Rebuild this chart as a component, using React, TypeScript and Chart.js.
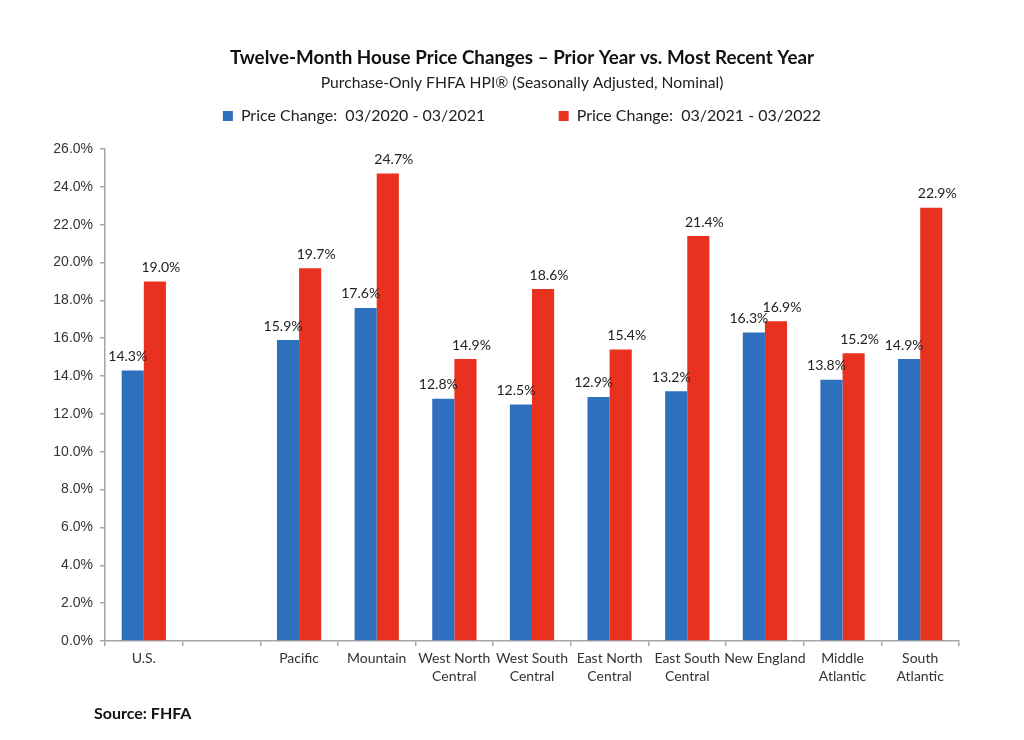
import React, { useEffect, useRef } from 'react';
import { Chart, registerables } from 'chart.js';

Chart.register(...registerables);

const categories: (string | string[])[] = [
  'U.S.',
  '',
  'Pacific',
  'Mountain',
  ['West North', 'Central'],
  ['West South', 'Central'],
  ['East North', 'Central'],
  ['East South', 'Central'],
  'New England',
  ['Middle', 'Atlantic'],
  ['South', 'Atlantic'],
];

const priorYear: (number | null)[] = [14.3, null, 15.9, 17.6, 12.8, 12.5, 12.9, 13.2, 16.3, 13.8, 14.9];
const recentYear: (number | null)[] = [19.0, null, 19.7, 24.7, 14.9, 18.6, 15.4, 21.4, 16.9, 15.2, 22.9];

const seriesNames = ['Price Change:  03/2020 - 03/2021', 'Price Change:  03/2021 - 03/2022'];
const yTickValues = [0, 2, 4, 6, 8, 10, 12, 14, 16, 18, 20, 22, 24, 26];

const titleText = 'Twelve-Month House Price Changes \u2013 Prior Year vs. Most Recent Year';
const subtitleText = 'Purchase-Only FHFA HPI\u00AE (Seasonally Adjusted, Nominal)';
const sourceText = 'Source: FHFA';

const BLUE = '#2E6FBE';
const RED = '#E8321F';
const AXIS = '#A6A6A6';

const dataLabels = {
  id: 'dataLabels',
  afterDatasetsDraw(chart: any) {
    const ctx = chart.ctx;
    ctx.save();
    ctx.font = '14px Lato';
    ctx.fillStyle = '#222';
    ctx.textAlign = 'center';
    ctx.textBaseline = 'middle';
    chart.data.datasets.forEach((ds: any, di: number) => {
      const meta = chart.getDatasetMeta(di);
      meta.data.forEach((bar: any, i: number) => {
        const v = ds.data[i];
        if (v == null) return;
        const dx = di === 0 ? -5 : 6;
        ctx.fillText(v.toFixed(1) + '%', bar.x + dx, bar.y - 14);
      });
    });
    ctx.restore();
  },
};

const legendGap = {
  id: 'legendGap',
  beforeLayout(chart: any) {
    const lg = chart.legend;
    if (lg && !lg.__gapPatched) {
      const orig = lg.fit;
      lg.fit = function () {
        orig.call(this);
        this.height += 15;
      };
      lg.__gapPatched = true;
    }
  },
};

export default function App() {
  const ref = useRef<HTMLCanvasElement | null>(null);

  useEffect(() => {
    if (!ref.current) return;
    const chart = new Chart(ref.current, {
      type: 'bar',
      data: {
        labels: categories as any,
        datasets: [
          {
            label: seriesNames[0] + '              ',
            data: priorYear as any,
            backgroundColor: BLUE,
            borderWidth: 0,
            categoryPercentage: 0.57,
            barPercentage: 1.0,
          },
          {
            label: seriesNames[1],
            data: recentYear as any,
            backgroundColor: RED,
            borderWidth: 0,
            categoryPercentage: 0.57,
            barPercentage: 1.0,
          },
        ],
      },
      options: {
        responsive: false,
        animation: false,
        layout: { padding: { top: 46.7, left: 20, right: 0, bottom: 0 } },
        plugins: {
          title: {
            display: true,
            text: titleText,
            color: '#111',
            font: { family: 'Lato', size: 18.8, weight: 'bold', lineHeight: 1.2 },
            padding: { top: 0, bottom: 0 },
          },
          subtitle: {
            display: true,
            text: subtitleText,
            color: '#222',
            font: { family: 'Lato', size: 15.7, lineHeight: 1.2 },
            padding: { top: 3.9, bottom: 0 },
          },
          legend: {
            display: true,
            position: 'top',
            labels: {
              boxWidth: 10,
              boxHeight: 10,
              padding: 16,
              color: '#222',
              font: { family: 'Lato', size: 16 },
            },
          },
          tooltip: { enabled: false },
        },
        scales: {
          x: {
            grid: {
              display: true,
              drawOnChartArea: false,
              drawTicks: true,
              tickLength: 5,
              color: AXIS,
              lineWidth: 1.5,
              offset: true,
            },
            border: { display: true, color: AXIS, width: 1.5 },
            ticks: {
              color: '#333',
              font: { family: 'Lato', size: 14, lineHeight: 1.3 },
              padding: 3,
              maxRotation: 0,
              autoSkip: false,
            },
            afterFit(scale: any) {
              scale.height = 99;
            },
          },
          y: {
            position: 'left',
            min: 0,
            max: 26,
            afterBuildTicks(scale: any) {
              scale.ticks = yTickValues.map((v) => ({ value: v }));
            },
            grid: {
              display: true,
              drawOnChartArea: false,
              drawTicks: true,
              tickLength: 5,
              color: AXIS,
              lineWidth: 1.5,
            },
            border: { display: true, color: AXIS, width: 1.5 },
            ticks: {
              color: '#333',
              font: { family: "'Liberation Sans', Arial, sans-serif", size: 14 },
              padding: 7,
              callback: (v: any) => Number(v).toFixed(1) + '%',
            },
            afterFit(scale: any) {
              scale.width = 85;
            },
          },
          spacer: {
            type: 'linear',
            position: 'right',
            display: true,
            grid: { display: false, drawTicks: false },
            border: { display: false },
            ticks: { display: false },
            afterFit(scale: any) {
              scale.width = 65;
            },
          },
        },
      },
      plugins: [dataLabels, legendGap],
    });
    return () => chart.destroy();
  }, []);

  return (
    <div style={{ position: 'absolute', left: 0, top: 0, width: 1024, height: 740, background: '#fff' }}>
      <canvas ref={ref} width={1024} height={740} style={{ width: 1024, height: 740, display: 'block' }} />
      <div
        style={{
          position: 'absolute',
          left: 94,
          top: 703,
          fontFamily: 'Lato, sans-serif',
          fontWeight: 'bold',
          fontSize: 16,
          color: '#111',
          lineHeight: '20px',
        }}
      >
        {sourceText}
      </div>
    </div>
  );
}
